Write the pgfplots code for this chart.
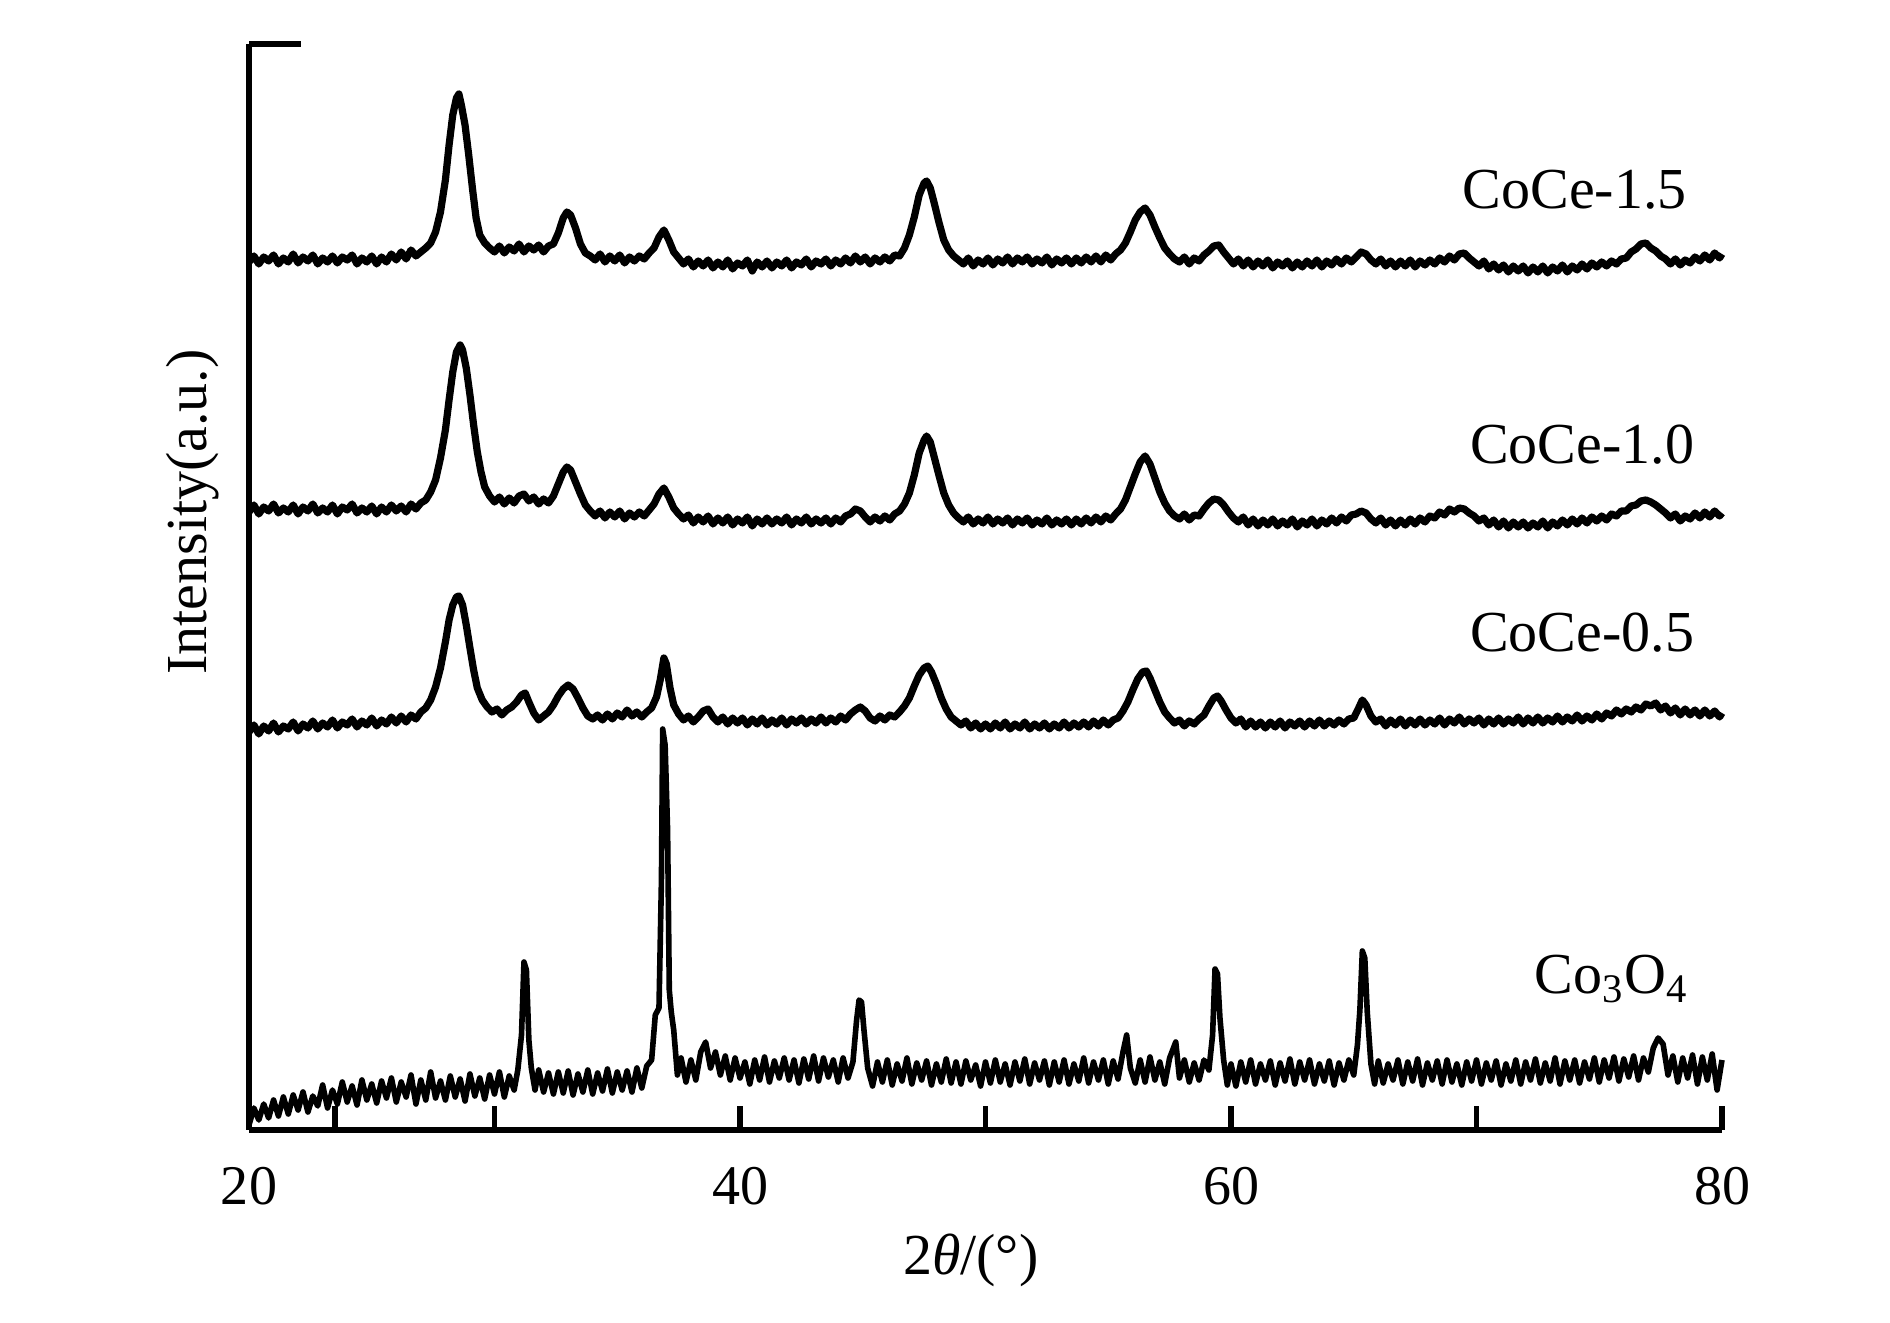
\documentclass[border=0pt]{standalone}
\usepackage{pgfplots}
\usepackage{pgfplotstable}
\pgfplotsset{compat=1.18}
\usepackage{fontspec}
\setmainfont{Liberation Serif}

% XRD patterns, y in pixel-like units above the axis (stacked offsets)
\pgfplotstableread[row sep=\\]{
x y\\
20.0 868\\ 20.2 874\\ 20.4 866\\ 20.6 873\\ 20.8 869\\ 21.0 875\\ 21.2 866\\ 21.4 872\\ 21.6 868\\ 21.8 876\\
22.0 867\\ 22.2 873\\ 22.4 869\\ 22.6 875\\ 22.8 866\\ 23.0 872\\ 23.2 868\\ 23.4 874\\ 23.6 867\\ 23.8 873\\
24.0 870\\ 24.2 875\\ 24.4 866\\ 24.6 872\\ 24.8 868\\ 25.0 874\\ 25.2 866\\ 25.4 873\\ 25.6 868\\ 25.8 876\\
26.0 870\\ 26.2 878\\ 26.4 871\\ 26.6 880\\ 26.8 874\\ 27.0 878\\ 27.2 882\\ 27.4 887\\ 27.6 898\\ 27.8 918\\
28.0 950\\ 28.15 985\\ 28.3 1015\\ 28.45 1032\\ 28.55 1036\\ 28.65 1025\\ 28.8 1005\\ 28.95 975\\ 29.1 942\\ 29.25 912\\
29.4 895\\ 29.6 887\\ 29.8 882\\ 30.0 878\\ 30.2 884\\ 30.4 877\\ 30.6 883\\ 30.8 879\\ 31.0 886\\ 31.2 878\\
31.4 884\\ 31.6 880\\ 31.8 885\\ 32.0 878\\ 32.2 884\\ 32.4 886\\ 32.6 897\\ 32.8 912\\ 32.95 918\\ 33.1 915\\
33.3 902\\ 33.5 886\\ 33.7 877\\ 33.9 874\\ 34.1 870\\ 34.3 876\\ 34.5 868\\ 34.7 874\\ 34.9 869\\ 35.1 875\\
35.3 867\\ 35.5 873\\ 35.7 869\\ 35.9 874\\ 36.1 871\\ 36.3 877\\ 36.5 882\\ 36.7 893\\ 36.9 900\\ 37.1 890\\
37.3 878\\ 37.5 872\\ 37.7 866\\ 37.9 871\\ 38.1 863\\ 38.3 869\\ 38.5 864\\ 38.7 870\\ 38.9 862\\ 39.1 868\\
39.3 863\\ 39.5 870\\ 39.7 861\\ 39.9 867\\ 40.1 864\\ 40.3 870\\ 40.5 859\\ 40.7 868\\ 40.9 863\\ 41.1 869\\
41.3 862\\ 41.5 868\\ 41.7 864\\ 41.9 870\\ 42.1 862\\ 42.3 868\\ 42.5 865\\ 42.7 871\\ 42.9 863\\ 43.1 869\\
43.3 866\\ 43.5 871\\ 43.7 864\\ 43.9 870\\ 44.1 866\\ 44.3 872\\ 44.5 867\\ 44.7 874\\ 44.9 868\\ 45.1 873\\
45.3 866\\ 45.5 872\\ 45.7 868\\ 45.9 873\\ 46.1 869\\ 46.3 875\\ 46.5 874\\ 46.7 882\\ 46.9 895\\ 47.1 913\\
47.3 935\\ 47.5 947\\ 47.6 949\\ 47.75 942\\ 47.9 928\\ 48.1 908\\ 48.3 890\\ 48.5 880\\ 48.7 874\\ 48.9 870\\
49.1 866\\ 49.3 872\\ 49.5 864\\ 49.7 870\\ 49.9 866\\ 50.1 872\\ 50.3 865\\ 50.5 871\\ 50.7 867\\ 50.9 873\\
51.1 866\\ 51.3 872\\ 51.5 868\\ 51.7 873\\ 51.9 866\\ 52.1 871\\ 52.3 867\\ 52.5 873\\ 52.7 865\\ 52.9 871\\
53.1 867\\ 53.3 872\\ 53.5 866\\ 53.7 872\\ 53.9 867\\ 54.1 873\\ 54.3 868\\ 54.5 874\\ 54.7 868\\ 54.9 875\\
55.1 870\\ 55.3 876\\ 55.5 880\\ 55.7 887\\ 55.9 898\\ 56.1 910\\ 56.3 918\\ 56.5 922\\ 56.7 915\\ 56.9 903\\
57.1 892\\ 57.3 882\\ 57.5 876\\ 57.7 871\\ 57.9 868\\ 58.1 873\\ 58.3 866\\ 58.5 872\\ 58.7 869\\ 58.9 875\\
59.1 879\\ 59.3 884\\ 59.5 885\\ 59.7 878\\ 59.9 872\\ 60.1 866\\ 60.3 871\\ 60.5 864\\ 60.7 870\\ 60.9 863\\
61.1 869\\ 61.3 864\\ 61.5 870\\ 61.7 862\\ 61.9 868\\ 62.1 864\\ 62.3 869\\ 62.5 862\\ 62.7 868\\ 62.9 863\\
63.1 869\\ 63.3 864\\ 63.5 870\\ 63.7 863\\ 63.9 869\\ 64.1 865\\ 64.3 871\\ 64.5 866\\ 64.7 872\\ 64.9 868\\
65.1 873\\ 65.3 878\\ 65.5 876\\ 65.7 870\\ 65.9 866\\ 66.1 871\\ 66.3 864\\ 66.5 869\\ 66.7 863\\ 66.9 869\\
67.1 864\\ 67.3 870\\ 67.5 863\\ 67.7 869\\ 67.9 865\\ 68.1 870\\ 68.3 866\\ 68.5 872\\ 68.7 868\\ 68.9 874\\
69.1 870\\ 69.3 876\\ 69.5 877\\ 69.7 872\\ 69.9 868\\ 70.1 864\\ 70.3 869\\ 70.5 861\\ 70.7 866\\ 70.9 860\\
71.1 865\\ 71.3 858\\ 71.5 864\\ 71.7 859\\ 71.9 864\\ 72.1 857\\ 72.3 863\\ 72.5 858\\ 72.7 864\\ 72.9 857\\
73.1 863\\ 73.3 859\\ 73.5 865\\ 73.7 858\\ 73.9 864\\ 74.1 860\\ 74.3 866\\ 74.5 861\\ 74.7 867\\ 74.9 863\\
75.1 868\\ 75.3 864\\ 75.5 869\\ 75.7 866\\ 75.9 871\\ 76.1 872\\ 76.3 878\\ 76.5 881\\ 76.7 886\\ 76.9 887\\
77.1 882\\ 77.3 879\\ 77.5 874\\ 77.7 871\\ 77.9 866\\ 78.1 871\\ 78.3 865\\ 78.5 870\\ 78.7 867\\ 78.9 873\\
79.1 869\\ 79.3 875\\ 79.5 870\\ 79.7 877\\ 79.9 872\\ 80.0 876\\
}\coceC

\pgfplotstableread[row sep=\\]{
x y\\
20.0 618\\ 20.2 625\\ 20.4 616\\ 20.6 623\\ 20.8 619\\ 21.0 626\\ 21.2 617\\ 21.4 622\\ 21.6 618\\ 21.8 625\\
22.0 616\\ 22.2 623\\ 22.4 619\\ 22.6 626\\ 22.8 617\\ 23.0 622\\ 23.2 618\\ 23.4 625\\ 23.6 616\\ 23.8 623\\
24.0 620\\ 24.2 626\\ 24.4 617\\ 24.6 622\\ 24.8 618\\ 25.0 624\\ 25.2 616\\ 25.4 623\\ 25.6 618\\ 25.8 625\\
26.0 619\\ 26.2 624\\ 26.4 618\\ 26.6 626\\ 26.8 621\\ 27.0 627\\ 27.2 630\\ 27.4 638\\ 27.6 650\\ 27.8 672\\
28.0 700\\ 28.15 730\\ 28.3 758\\ 28.45 778\\ 28.6 785\\ 28.7 780\\ 28.85 762\\ 29.0 735\\ 29.15 705\\ 29.3 678\\
29.45 658\\ 29.6 643\\ 29.8 634\\ 30.0 628\\ 30.2 633\\ 30.4 626\\ 30.6 632\\ 30.8 627\\ 31.0 634\\ 31.2 636\\
31.4 629\\ 31.6 633\\ 31.8 626\\ 32.0 631\\ 32.2 627\\ 32.4 634\\ 32.6 646\\ 32.8 658\\ 32.95 663\\ 33.1 660\\
33.3 648\\ 33.5 636\\ 33.7 625\\ 33.9 619\\ 34.1 614\\ 34.3 619\\ 34.5 612\\ 34.7 618\\ 34.9 613\\ 35.1 619\\
35.3 611\\ 35.5 617\\ 35.7 613\\ 35.9 618\\ 36.1 614\\ 36.3 620\\ 36.5 626\\ 36.7 636\\ 36.9 642\\ 37.1 633\\
37.3 622\\ 37.5 616\\ 37.7 611\\ 37.9 615\\ 38.1 607\\ 38.3 613\\ 38.5 608\\ 38.7 614\\ 38.9 606\\ 39.1 612\\
39.3 607\\ 39.5 613\\ 39.7 605\\ 39.9 611\\ 40.1 607\\ 40.3 613\\ 40.5 604\\ 40.7 611\\ 40.9 606\\ 41.1 612\\
41.3 606\\ 41.5 611\\ 41.7 607\\ 41.9 613\\ 42.1 605\\ 42.3 611\\ 42.5 607\\ 42.7 613\\ 42.9 606\\ 43.1 611\\
43.3 607\\ 43.5 612\\ 43.7 606\\ 43.9 612\\ 44.1 608\\ 44.3 614\\ 44.5 616\\ 44.7 621\\ 44.9 619\\ 45.1 613\\
45.3 608\\ 45.5 613\\ 45.7 609\\ 45.9 614\\ 46.1 610\\ 46.3 616\\ 46.5 619\\ 46.7 626\\ 46.9 637\\ 47.1 655\\
47.3 677\\ 47.5 690\\ 47.6 694\\ 47.75 688\\ 47.9 674\\ 48.1 655\\ 48.3 637\\ 48.5 625\\ 48.7 617\\ 48.9 612\\
49.1 608\\ 49.3 613\\ 49.5 606\\ 49.7 611\\ 49.9 607\\ 50.1 613\\ 50.3 606\\ 50.5 611\\ 50.7 607\\ 50.9 612\\
51.1 605\\ 51.3 611\\ 51.5 607\\ 51.7 612\\ 51.9 605\\ 52.1 610\\ 52.3 606\\ 52.5 612\\ 52.7 605\\ 52.9 610\\
53.1 606\\ 53.3 611\\ 53.5 605\\ 53.7 611\\ 53.9 606\\ 54.1 612\\ 54.3 607\\ 54.5 613\\ 54.7 608\\ 54.9 614\\
55.1 610\\ 55.3 616\\ 55.5 621\\ 55.7 630\\ 55.9 643\\ 56.1 656\\ 56.3 668\\ 56.5 674\\ 56.7 666\\ 56.9 652\\
57.1 638\\ 57.3 627\\ 57.5 619\\ 57.7 614\\ 57.9 611\\ 58.1 616\\ 58.3 610\\ 58.5 615\\ 58.7 614\\ 58.9 621\\
59.1 627\\ 59.3 631\\ 59.5 630\\ 59.7 625\\ 59.9 618\\ 60.1 612\\ 60.3 608\\ 60.5 613\\ 60.7 605\\ 60.9 611\\
61.1 604\\ 61.3 610\\ 61.5 605\\ 61.7 611\\ 61.9 604\\ 62.1 609\\ 62.3 605\\ 62.5 611\\ 62.7 603\\ 62.9 609\\
63.1 605\\ 63.3 611\\ 63.5 604\\ 63.7 610\\ 63.9 606\\ 64.1 612\\ 64.3 607\\ 64.5 613\\ 64.7 609\\ 64.9 615\\
65.1 616\\ 65.3 619\\ 65.5 617\\ 65.7 611\\ 65.9 607\\ 66.1 612\\ 66.3 605\\ 66.5 610\\ 66.7 604\\ 66.9 610\\
67.1 605\\ 67.3 611\\ 67.5 606\\ 67.7 612\\ 67.9 608\\ 68.1 614\\ 68.3 612\\ 68.5 618\\ 68.7 615\\ 68.9 621\\
69.1 618\\ 69.3 622\\ 69.5 621\\ 69.7 617\\ 69.9 614\\ 70.1 609\\ 70.3 612\\ 70.5 605\\ 70.7 610\\ 70.9 603\\
71.1 609\\ 71.3 602\\ 71.5 608\\ 71.7 603\\ 71.9 608\\ 72.1 602\\ 72.3 607\\ 72.5 603\\ 72.7 609\\ 72.9 602\\
73.1 608\\ 73.3 604\\ 73.5 610\\ 73.7 605\\ 73.9 611\\ 74.1 606\\ 74.3 612\\ 74.5 607\\ 74.7 613\\ 74.9 609\\
75.1 614\\ 75.3 610\\ 75.5 616\\ 75.7 614\\ 75.9 619\\ 76.1 619\\ 76.3 624\\ 76.5 625\\ 76.7 629\\ 76.9 630\\
77.1 628\\ 77.3 625\\ 77.5 621\\ 77.7 617\\ 77.9 612\\ 78.1 616\\ 78.3 609\\ 78.5 614\\ 78.7 611\\ 78.9 617\\
79.1 612\\ 79.3 618\\ 79.5 613\\ 79.7 619\\ 79.9 614\\ 80.0 617\\
}\coceB

\pgfplotstableread[row sep=\\]{
x y\\
20.0 398\\ 20.2 405\\ 20.4 396\\ 20.6 404\\ 20.8 399\\ 21.0 407\\ 21.2 398\\ 21.4 404\\ 21.6 401\\ 21.8 408\\
22.0 399\\ 22.2 406\\ 22.4 402\\ 22.6 409\\ 22.8 401\\ 23.0 407\\ 23.2 403\\ 23.4 410\\ 23.6 402\\ 23.8 408\\
24.0 405\\ 24.2 411\\ 24.4 403\\ 24.6 409\\ 24.8 405\\ 25.0 412\\ 25.2 404\\ 25.4 410\\ 25.6 406\\ 25.8 413\\
26.0 407\\ 26.2 414\\ 26.4 408\\ 26.6 415\\ 26.8 411\\ 27.0 418\\ 27.2 422\\ 27.4 430\\ 27.6 443\\ 27.8 462\\
28.0 488\\ 28.15 510\\ 28.3 525\\ 28.45 533\\ 28.55 534\\ 28.7 525\\ 28.85 505\\ 29.0 482\\ 29.15 460\\ 29.3 442\\
29.5 430\\ 29.7 423\\ 29.9 418\\ 30.1 421\\ 30.3 415\\ 30.5 420\\ 30.7 423\\ 30.9 428\\ 31.1 435\\ 31.25 437\\
31.4 428\\ 31.6 417\\ 31.8 410\\ 32.0 414\\ 32.2 418\\ 32.4 425\\ 32.6 434\\ 32.8 441\\ 33.0 445\\ 33.2 441\\
33.4 432\\ 33.6 422\\ 33.8 414\\ 34.0 411\\ 34.2 415\\ 34.4 410\\ 34.6 416\\ 34.8 411\\ 35.0 417\\ 35.2 413\\
35.4 420\\ 35.6 414\\ 35.8 418\\ 36.0 413\\ 36.2 418\\ 36.4 422\\ 36.6 433\\ 36.75 450\\ 36.9 472\\ 37.0 466\\
37.15 442\\ 37.3 425\\ 37.5 416\\ 37.7 410\\ 37.9 414\\ 38.1 408\\ 38.3 413\\ 38.5 419\\ 38.7 421\\ 38.9 413\\
39.1 408\\ 39.3 413\\ 39.5 406\\ 39.7 412\\ 39.9 407\\ 40.1 412\\ 40.3 405\\ 40.5 411\\ 40.7 406\\ 40.9 412\\
41.1 405\\ 41.3 410\\ 41.5 406\\ 41.7 412\\ 41.9 405\\ 42.1 411\\ 42.3 407\\ 42.5 412\\ 42.7 406\\ 42.9 411\\
43.1 407\\ 43.3 413\\ 43.5 407\\ 43.7 412\\ 43.9 408\\ 44.1 414\\ 44.3 410\\ 44.5 416\\ 44.7 420\\ 44.9 423\\
45.1 419\\ 45.3 412\\ 45.5 409\\ 45.7 414\\ 45.9 410\\ 46.1 415\\ 46.3 413\\ 46.5 418\\ 46.7 424\\ 46.9 432\\
47.1 444\\ 47.3 455\\ 47.5 462\\ 47.65 464\\ 47.8 458\\ 48.0 446\\ 48.2 432\\ 48.4 421\\ 48.6 413\\ 48.8 409\\
49.0 405\\ 49.2 409\\ 49.4 402\\ 49.6 407\\ 49.8 401\\ 50.0 406\\ 50.2 401\\ 50.4 407\\ 50.6 402\\ 50.8 408\\
51.0 401\\ 51.2 406\\ 51.4 402\\ 51.6 408\\ 51.8 401\\ 52.0 406\\ 52.2 402\\ 52.4 407\\ 52.6 401\\ 52.8 406\\
53.0 402\\ 53.2 408\\ 53.4 402\\ 53.6 407\\ 53.8 403\\ 54.0 408\\ 54.2 403\\ 54.4 409\\ 54.6 404\\ 54.8 410\\
55.0 405\\ 55.2 410\\ 55.4 412\\ 55.6 419\\ 55.8 428\\ 56.0 440\\ 56.2 451\\ 56.4 458\\ 56.55 459\\ 56.7 452\\
56.9 440\\ 57.1 428\\ 57.3 418\\ 57.5 412\\ 57.7 407\\ 57.9 410\\ 58.1 404\\ 58.3 409\\ 58.5 406\\ 58.7 411\\
58.9 415\\ 59.1 424\\ 59.3 432\\ 59.45 434\\ 59.6 429\\ 59.8 420\\ 60.0 412\\ 60.2 407\\ 60.4 411\\ 60.6 403\\
60.8 409\\ 61.0 403\\ 61.2 408\\ 61.4 402\\ 61.6 408\\ 61.8 403\\ 62.0 409\\ 62.2 402\\ 62.4 408\\ 62.6 404\\
62.8 409\\ 63.0 403\\ 63.2 409\\ 63.4 404\\ 63.6 410\\ 63.8 404\\ 64.0 409\\ 64.2 405\\ 64.4 410\\ 64.6 406\\
64.8 411\\ 65.0 412\\ 65.2 422\\ 65.35 430\\ 65.5 425\\ 65.7 414\\ 65.9 408\\ 66.1 411\\ 66.3 404\\ 66.5 410\\
66.7 405\\ 66.9 411\\ 67.1 404\\ 67.3 410\\ 67.5 405\\ 67.7 411\\ 67.9 405\\ 68.1 410\\ 68.3 406\\ 68.5 412\\
68.7 405\\ 68.9 411\\ 69.1 407\\ 69.3 413\\ 69.5 406\\ 69.7 411\\ 69.9 407\\ 70.1 412\\ 70.3 405\\ 70.5 411\\
70.7 406\\ 70.9 412\\ 71.1 406\\ 71.3 411\\ 71.5 407\\ 71.7 413\\ 71.9 406\\ 72.1 412\\ 72.3 407\\ 72.5 413\\
72.7 407\\ 72.9 412\\ 73.1 408\\ 73.3 414\\ 73.5 408\\ 73.7 413\\ 73.9 409\\ 74.1 415\\ 74.3 409\\ 74.5 414\\
74.7 410\\ 74.9 416\\ 75.1 411\\ 75.3 417\\ 75.5 414\\ 75.7 420\\ 75.9 416\\ 76.1 421\\ 76.3 418\\ 76.5 423\\
76.7 420\\ 76.9 426\\ 77.1 424\\ 77.3 427\\ 77.5 420\\ 77.7 424\\ 77.9 417\\ 78.1 422\\ 78.3 415\\ 78.5 421\\
78.7 415\\ 78.9 420\\ 79.1 414\\ 79.3 420\\ 79.5 414\\ 79.7 419\\ 79.9 413\\ 80.0 417\\
}\coceA

\pgfplotstableread[row sep=\\]{
x y\\
20.0 5\\ 20.2 22\\ 20.4 10\\ 20.6 26\\ 20.8 12\\ 21.0 30\\ 21.2 14\\ 21.4 33\\ 21.6 16\\ 21.8 35\\
22.0 20\\ 22.2 38\\ 22.4 18\\ 22.6 34\\ 22.8 24\\ 23.0 45\\ 23.2 22\\ 23.4 40\\ 23.6 26\\ 23.8 48\\
24.0 28\\ 24.2 44\\ 24.4 25\\ 24.6 50\\ 24.8 30\\ 25.0 46\\ 25.2 27\\ 25.4 49\\ 25.6 32\\ 25.8 52\\
26.0 28\\ 26.2 48\\ 26.4 33\\ 26.6 55\\ 26.8 26\\ 27.0 50\\ 27.2 30\\ 27.4 58\\ 27.6 32\\ 27.8 49\\
28.0 30\\ 28.2 54\\ 28.4 33\\ 28.6 51\\ 28.8 29\\ 29.0 56\\ 29.2 34\\ 29.4 52\\ 29.6 31\\ 29.8 55\\
30.0 36\\ 30.2 58\\ 30.4 33\\ 30.6 54\\ 30.8 40\\ 30.95 60\\ 31.1 95\\ 31.2 168\\ 31.3 160\\ 31.4 90\\
31.5 62\\ 31.65 40\\ 31.8 60\\ 32.0 38\\ 32.2 57\\ 32.4 36\\ 32.6 58\\ 32.8 37\\ 33.0 59\\ 33.2 35\\
33.4 56\\ 33.6 38\\ 33.8 60\\ 34.0 36\\ 34.2 57\\ 34.4 39\\ 34.6 61\\ 34.8 37\\ 35.0 58\\ 35.2 40\\
35.4 59\\ 35.6 38\\ 35.8 62\\ 36.0 42\\ 36.2 64\\ 36.4 70\\ 36.55 115\\ 36.7 122\\ 36.8 250\\ 36.85 401\\
36.95 385\\ 37.05 300\\ 37.12 140\\ 37.2 118\\ 37.3 100\\ 37.45 55\\ 37.6 72\\ 37.8 48\\ 38.0 70\\ 38.2 50\\
38.4 78\\ 38.6 88\\ 38.8 62\\ 39.0 78\\ 39.2 55\\ 39.4 74\\ 39.6 50\\ 39.8 72\\ 40.0 52\\ 40.2 68\\
40.4 46\\ 40.6 70\\ 40.8 50\\ 41.0 73\\ 41.2 48\\ 41.4 69\\ 41.6 52\\ 41.8 72\\ 42.0 50\\ 42.2 70\\
42.4 47\\ 42.6 71\\ 42.8 51\\ 43.0 74\\ 43.2 49\\ 43.4 72\\ 43.6 53\\ 43.8 70\\ 44.0 48\\ 44.2 72\\
44.4 52\\ 44.6 68\\ 44.75 110\\ 44.85 130\\ 44.95 128\\ 45.05 100\\ 45.2 62\\ 45.4 44\\ 45.6 68\\ 45.8 48\\
46.0 70\\ 46.2 45\\ 46.4 66\\ 46.6 49\\ 46.8 72\\ 47.0 46\\ 47.2 67\\ 47.4 50\\ 47.6 69\\ 47.8 45\\
48.0 66\\ 48.2 48\\ 48.4 71\\ 48.6 47\\ 48.8 68\\ 49.0 46\\ 49.2 69\\ 49.4 50\\ 49.6 65\\ 49.8 44\\
50.0 68\\ 50.2 47\\ 50.4 70\\ 50.6 48\\ 50.8 66\\ 51.0 45\\ 51.2 68\\ 51.4 49\\ 51.6 71\\ 51.8 46\\
52.0 67\\ 52.2 50\\ 52.4 69\\ 52.6 45\\ 52.8 68\\ 53.0 48\\ 53.2 70\\ 53.4 46\\ 53.6 66\\ 53.8 49\\
54.0 72\\ 54.2 47\\ 54.4 68\\ 54.6 50\\ 54.8 70\\ 55.0 46\\ 55.2 69\\ 55.4 51\\ 55.6 78\\ 55.75 95\\
55.9 62\\ 56.1 47\\ 56.3 70\\ 56.5 48\\ 56.7 73\\ 56.9 50\\ 57.1 68\\ 57.3 46\\ 57.5 72\\ 57.75 88\\
57.9 52\\ 58.1 70\\ 58.3 48\\ 58.5 67\\ 58.7 50\\ 58.9 70\\ 59.1 60\\ 59.25 95\\ 59.35 161\\ 59.45 156\\
59.55 112\\ 59.7 70\\ 59.85 45\\ 60.0 66\\ 60.2 44\\ 60.4 68\\ 60.6 48\\ 60.8 70\\ 61.0 46\\ 61.2 66\\
61.4 50\\ 61.6 69\\ 61.8 45\\ 62.0 67\\ 62.2 49\\ 62.4 71\\ 62.6 46\\ 62.8 68\\ 63.0 50\\ 63.2 70\\
63.4 46\\ 63.6 66\\ 63.8 49\\ 64.0 69\\ 64.2 45\\ 64.4 67\\ 64.6 50\\ 64.8 70\\ 65.0 55\\ 65.15 85\\
65.25 120\\ 65.35 179\\ 65.45 172\\ 65.55 118\\ 65.7 66\\ 65.85 46\\ 66.0 69\\ 66.2 47\\ 66.4 66\\ 66.6 50\\
66.8 70\\ 67.0 46\\ 67.2 68\\ 67.4 49\\ 67.6 71\\ 67.8 45\\ 68.0 67\\ 68.2 50\\ 68.4 69\\ 68.6 46\\
68.8 70\\ 69.0 48\\ 69.2 66\\ 69.4 45\\ 69.6 68\\ 69.8 49\\ 70.0 70\\ 70.2 46\\ 70.4 67\\ 70.6 50\\
70.8 69\\ 71.0 45\\ 71.2 66\\ 71.4 49\\ 71.6 70\\ 71.8 46\\ 72.0 68\\ 72.2 50\\ 72.4 71\\ 72.6 47\\
72.8 67\\ 73.0 49\\ 73.2 72\\ 73.4 46\\ 73.6 69\\ 73.8 50\\ 74.0 70\\ 74.2 47\\ 74.4 68\\ 74.6 51\\
74.8 72\\ 75.0 48\\ 75.2 70\\ 75.4 52\\ 75.6 73\\ 75.8 49\\ 76.0 71\\ 76.2 53\\ 76.4 74\\ 76.6 50\\
76.8 72\\ 77.0 58\\ 77.2 82\\ 77.4 92\\ 77.6 86\\ 77.8 55\\ 78.0 74\\ 78.2 48\\ 78.4 72\\ 78.6 52\\
78.8 75\\ 79.0 46\\ 79.2 73\\ 79.4 50\\ 79.6 76\\ 79.8 40\\ 80.0 70\\
}\coco

\begin{document}
\begin{tikzpicture}
\begin{axis}[
    scale only axis,
    width=368.25pt, height=271.5pt,
    xmin=20, xmax=80, ymin=0, ymax=1086,
    axis x line=bottom, axis y line=left,
    axis line style={line width=1.4pt, -},
    xtick={20,30,...,80},
    xticklabels={20,,40,,60,,80},
    extra x ticks={23.5}, extra x tick labels={},
    ytick=\empty,
    tick align=inside,
    major tick length=6pt,
    every tick/.style={black, line width=1.4pt},
    /pgf/number format/assume math mode=true,
    tick label style={font=\fontsize{14}{16}\selectfont},
    xticklabel style={anchor=center, yshift=-14pt},
    xlabel={2\textit{θ}/(°)},
    every axis x label/.style={at={(axis description cs:0.49,-0.12)}, anchor=center, font=\fontsize{14.5}{16}\selectfont},
    ylabel={Intensity(a.u.)},
    every axis y label/.style={at={(axis description cs:-0.038,0.569)}, anchor=center, rotate=90, font=\fontsize{14.5}{16}\selectfont},
    clip=false,
]
\addplot[black, line width=1.8pt, line join=round, no marks] table {\coceC};
\addplot[black, line width=1.8pt, line join=round, no marks] table {\coceB};
\addplot[black, line width=1.8pt, line join=round, no marks] table {\coceA};
\addplot[black, line width=1.4pt, line join=round, no marks] table {\coco};

\draw[line width=1.4pt] (rel axis cs:0,1) -- (rel axis cs:0.035,1);

\node[font=\fontsize{14.5}{16}\selectfont] at (axis cs:74.0,940) {CoCe-1.5};
\node[font=\fontsize{14.5}{16}\selectfont] at (axis cs:74.3,685) {CoCe-1.0};
\node[font=\fontsize{14.5}{16}\selectfont] at (axis cs:74.3,497) {CoCe-0.5};
\node[font=\fontsize{14.5}{16}\selectfont] at (axis cs:75.5,151) {Co\textsubscript{3}O\textsubscript{4}};
\end{axis}
\pgfresetboundingbox
\path[use as bounding box] (-62.25pt,-48.25pt) rectangle (410.25pt,282.5pt);
\end{tikzpicture}
\end{document}
